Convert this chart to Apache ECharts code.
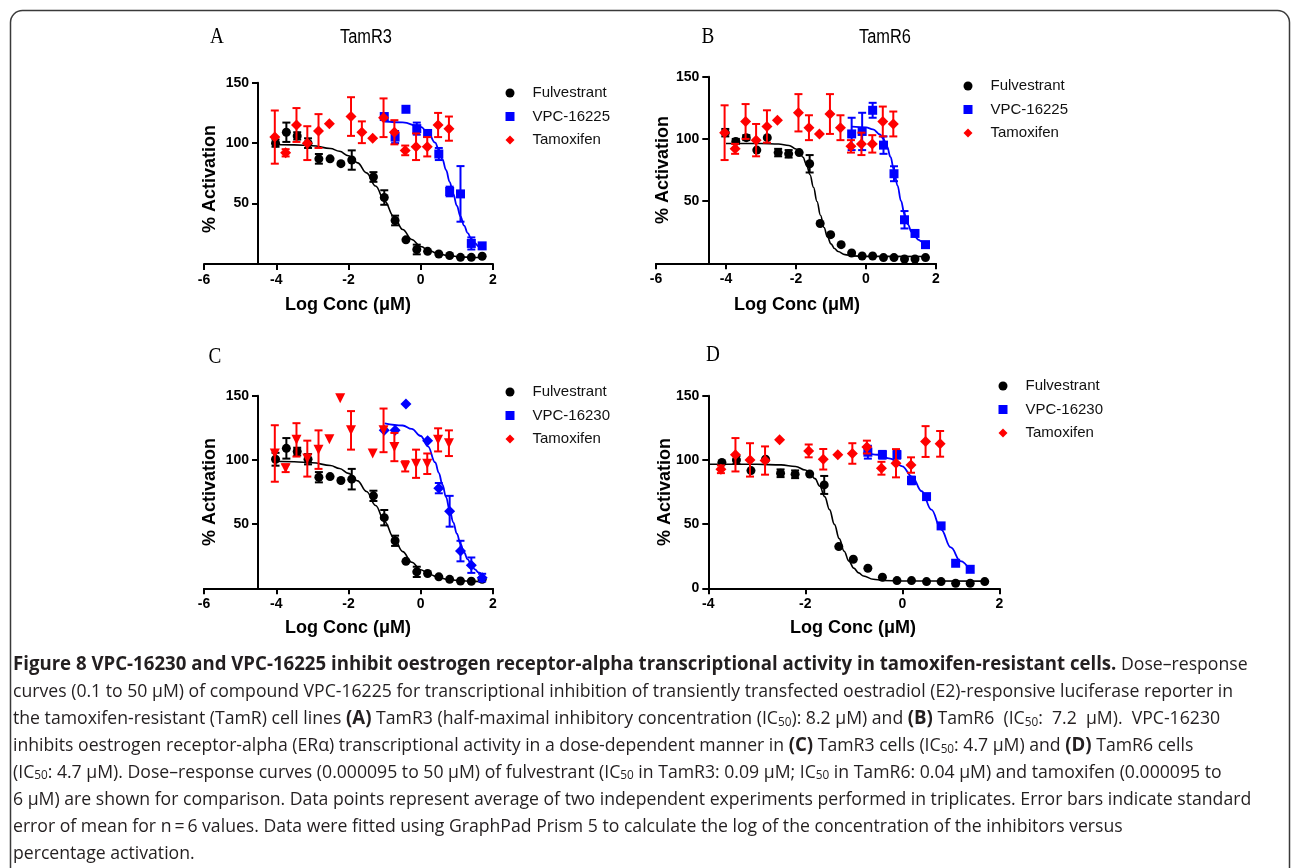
<!DOCTYPE html>
<html><head><meta charset="utf-8">
<script src="https://cdn.jsdelivr.net/npm/echarts@6/dist/echarts.min.js"></script>
<style>html,body{margin:0;padding:0;background:#fff}#c{width:1293px;height:868px}</style>
</head><body><div id="c"></div><script>
// ---------- DATA: [log conc (uM), % activation, SEM (0 = no bar)] ----------
// Panel A (TamR3, VPC-16225)
const aFulvestrant = [[-4.02,100,3],[-3.72,109,8],[-3.42,106,3],[-3.12,100,4],[-2.82,87,4],[-2.51,87,0],[-2.21,83,0],[-1.91,86,8],[-1.31,72,4],[-1.01,55,6],[-0.71,36,4],[-0.41,20,0],[-0.11,12,4],[0.19,10.5,0],[0.50,8.3,0],[0.80,7,0],[1.10,5.5,0],[1.40,5.5,0],[1.70,6.4,0]];
const aFulvestrantFit = [[-4.0,98.9],[-3.5,98.6],[-3.0,97.8],[-2.5,95.6],[-2.25,93.3],[-2.0,89.5],[-1.75,83.7],[-1.5,75.4],[-1.25,64.5],[-1.0,52],[-0.75,39.5],[-0.5,28.6],[-0.25,20.3],[0,14.5],[0.25,10.7],[0.5,8.4],[0.75,7.0],[1.0,6.2],[1.25,5.7],[1.5,5.4],[1.75,5.2]];
const aVpc16225 = [[-1.01,122,0],[-0.71,105,5],[-0.41,128,0],[-0.11,112,5],[0.19,108,0],[0.50,91,5],[0.80,60,4],[1.10,58,23],[1.40,17,5],[1.70,15,0]];
const aVpc16225Fit = [[-1.0,117.9],[-0.5,117.2],[0,113.4],[0.2,108.8],[0.4,100.4],[0.5,94.3],[0.6,86.7],[0.7,77.8],[0.8,68.0],[0.9,58.0],[1.0,48.2],[1.1,39.3],[1.2,31.8],[1.3,25.6],[1.4,20.8],[1.5,17.2],[1.6,14.5],[1.7,12.6]];
const aTamoxifen = [[-4.04,105,22],[-3.74,92,3],[-3.44,115,14],[-3.14,100,14],[-2.83,110,14],[-2.53,116,0],[-1.93,122,16],[-1.63,109,9],[-1.33,104,0],[-1.03,121,16],[-0.73,109,10],[-0.43,94,4],[-0.13,97,11],[0.18,97,8],[0.48,115,10],[0.78,112,10]];
// Panel B (TamR6, VPC-16225)
const bFulvestrant = [[-4.02,105,3],[-3.72,98,2],[-3.42,101,2],[-3.12,91,0],[-2.82,101,0],[-2.51,89,3],[-2.21,88,3],[-1.91,89,0],[-1.61,80,7],[-1.31,32,0],[-1.01,23,0],[-0.71,15,0],[-0.41,8.3,0],[-0.11,5.9,0],[0.19,5.9,0],[0.50,4.6,0],[0.80,4.6,0],[1.10,3.5,0],[1.40,3.5,0],[1.70,4.6,0]];
const bFulvestrantFit = [[-4.0,96.3],[-3.0,96.3],[-2.5,95.9],[-2.2,94.7],[-2.0,91.9],[-1.9,89.3],[-1.8,85.2],[-1.7,79.3],[-1.6,71.2],[-1.5,61.1],[-1.4,49.7],[-1.3,38.6],[-1.2,28.8],[-1.1,21.1],[-1.0,15.6],[-0.9,11.9],[-0.8,9.5],[-0.6,7.0],[-0.4,6.0],[0,5.6],[1.75,5.5]];
const bVpc16225 = [[-0.41,104,13],[-0.11,106,15],[0.19,123,6],[0.50,95,7],[0.80,72,6],[1.10,35,7],[1.40,24,0],[1.70,15,0]];
const bVpc16225Fit = [[-0.4,109.8],[0,109.2],[0.2,107.7],[0.4,103.7],[0.5,99.8],[0.6,93.9],[0.7,85.5],[0.8,74.8],[0.9,62.5],[1.0,50.2],[1.1,39.5],[1.2,31.1],[1.3,25.2],[1.4,21.3],[1.5,18.8],[1.6,17.3],[1.7,16.4]];
const bTamoxifen = [[-4.04,105,22],[-3.74,92,4],[-3.44,114,14],[-3.14,99,13],[-2.83,110,13],[-2.53,115,0],[-1.93,121,15],[-1.63,109,10],[-1.33,104,0],[-1.03,120,16],[-0.73,109,10],[-0.43,94,5],[-0.13,96,9],[0.18,96,7],[0.48,114,12],[0.78,112,10]];
// Panel C (TamR3, VPC-16230)
const cFulvestrant = [[-4.02,100.5,5],[-3.72,109,8],[-3.42,106.5,3],[-3.12,100.5,4],[-2.82,86.5,4],[-2.51,87,0],[-2.21,84,0],[-1.91,85,8],[-1.31,72,4],[-1.01,55,6],[-0.71,37,4],[-0.41,21,0],[-0.11,12.8,4],[0.19,11.5,0],[0.50,8.9,0],[0.80,7,0],[1.10,5.7,0],[1.40,5.5,0],[1.70,7,0]];
const cFulvestrantFit = [[-4.0,98.9],[-3.5,98.6],[-3.0,97.8],[-2.5,95.6],[-2.25,93.3],[-2.0,89.5],[-1.75,83.7],[-1.5,75.4],[-1.25,64.5],[-1.0,52],[-0.75,39.5],[-0.5,28.6],[-0.25,20.3],[0,14.5],[0.25,10.7],[0.5,8.4],[0.75,7.0],[1.0,6.2],[1.25,5.7],[1.5,5.4],[1.75,5.2]];
const cVpc16230 = [[-1.01,123,0],[-0.71,123,0],[-0.41,143.5,0],[0.19,115,0],[0.50,78,4],[0.80,60,12],[1.10,29,8],[1.40,18,6],[1.70,8.3,3]];
const cVpc16230Fit = [[-1.0,128.5],[-0.5,126.8],[-0.25,124.1],[0,118.6],[0.2,110.5],[0.4,98.0],[0.5,89.9],[0.6,80.7],[0.7,71.0],[0.8,61.0],[0.9,51.4],[1.0,42.5],[1.1,34.6],[1.2,27.9],[1.3,22.5],[1.4,18.2],[1.5,14.8],[1.6,12.3],[1.72,10.0]];
const cTamoxifen = [[-4.04,105,22],[-3.74,93.5,3],[-3.44,115.6,13],[-3.14,101,14],[-2.83,108,15],[-2.53,116,0],[-2.23,148,0],[-1.93,123,15],[-1.33,105,0],[-1.03,123,17],[-0.73,110,11],[-0.43,95,4],[-0.13,97,11],[0.18,97,8],[0.48,115.6,9],[0.78,113,10]];
// Panel D (TamR6, VPC-16230)
const dFulvestrant = [[-3.72,98,0],[-3.42,100,3],[-3.12,91.7,0],[-2.82,100.5,0],[-2.51,89.6,3],[-2.21,88.8,3],[-1.91,89,0],[-1.61,80.5,7],[-1.31,32.5,0],[-1.01,22.6,0],[-0.71,15.6,0],[-0.41,8.6,0],[-0.11,6,0],[0.19,6,0],[0.50,5.2,0],[0.80,5.2,0],[1.10,3.9,0],[1.40,3.9,0],[1.70,5.2,0]];
const dFulvestrantFit = [[-4.0,96.6],[-3.0,96.6],[-2.5,96.1],[-2.2,94.9],[-2.0,92.1],[-1.9,89.5],[-1.8,85.4],[-1.7,79.5],[-1.6,71.4],[-1.5,61.3],[-1.4,49.8],[-1.3,38.7],[-1.2,28.9],[-1.1,21.2],[-1.0,15.7],[-0.9,12.0],[-0.8,9.6],[-0.6,7.1],[-0.4,6.1],[0,5.7],[1.75,5.6]];
const dVpc16230 = [[-0.71,106,5],[-0.41,104,3],[-0.11,104,3],[0.19,84,3],[0.50,71.4,0],[0.80,48.6,0],[1.10,19.5,0],[1.40,14.8,0]];
const dVpc16230Fit = [[-0.8,105.8],[-0.5,104.0],[-0.25,101.0],[0,95.0],[0.2,87.0],[0.4,75.6],[0.6,61.2],[0.8,45.8],[1.0,31.8],[1.2,21.1],[1.4,13.8]];
const dTamoxifen = [[-3.74,92.7,3],[-3.44,104,13],[-3.14,100,13],[-2.83,99.5,11],[-2.53,115.6,0],[-1.93,107,5],[-1.63,100.5,8],[-1.33,104,0],[-1.03,105,8],[-0.73,110,5],[-0.43,93.5,5],[-0.13,97.4,11],[0.18,96,6],[0.48,114.3,12],[0.78,112.5,10]];

const panelLetters = ['A','B','C','D'];
const cellLines = ['TamR3','TamR6'];
const compounds = ['VPC-16225','VPC-16225','VPC-16230','VPC-16230'];
const xAxisTitle = 'Log Conc (\u03bcM)';
const yAxisTitle = '% Activation';
const captionLines = [
  '{b|Figure 8 VPC-16230 and VPC-16225 inhibit oestrogen receptor-alpha transcriptional activity in tamoxifen-resistant cells.} Dose\u2013response',
  'curves (0.1 to 50 \u03bcM) of compound VPC-16225 for transcriptional inhibition of transiently transfected oestradiol (E2)-responsive luciferase reporter in',
  'the tamoxifen-resistant (TamR) cell lines {b|(A)} TamR3 (half-maximal inhibitory concentration (IC{s|50}): 8.2 \u03bcM) and {b|(B)} TamR6  (IC{s|50}:  7.2  \u03bcM).  VPC-16230',
  'inhibits oestrogen receptor-alpha (ER\u03b1) transcriptional activity in a dose-dependent manner in {b|(C)} TamR3 cells (IC{s|50}: 4.7 \u03bcM) and {b|(D)} TamR6 cells',
  '(IC{s|50}: 4.7 \u03bcM). Dose\u2013response curves (0.000095 to 50 \u03bcM) of fulvestrant (IC{s|50} in TamR3: 0.09 \u03bcM; IC{s|50} in TamR6: 0.04 \u03bcM) and tamoxifen (0.000095 to',
  '6 \u03bcM) are shown for comparison. Data points represent average of two independent experiments performed in triplicates. Error bars indicate standard',
  'error of mean for n\u2009=\u20096 values. Data were fitted using GraphPad Prism 5 to calculate the log of the concentration of the inhibitors versus',
  'percentage activation.'
];

// ---------- LAYOUT ----------
const SANS = 'Liberation Sans, Arial, sans-serif';
const BLACK = '#000000', BLUE = '#0000ff', RED = '#ff0000';
const panels = [
  {grid:{left:204,top:82.7,width:289,height:181.3}, xMin:-6, yOffset:-54, zeroLabel:false,
   fulv:aFulvestrant, fulvFit:aFulvestrantFit, cmp:aVpc16225, cmpFit:aVpc16225Fit, tam:aTamoxifen,
   cmpSym:'rect', cmpSize:9, tamSym:'diamond', tamRot:0, legend:{left:505.5,top:85.5},
   yTitle:[210,179], xTitle:[348,305]},
  {grid:{left:656,top:76.7,width:280,height:186.6}, xMin:-6, yOffset:-52.3, zeroLabel:false,
   fulv:bFulvestrant, fulvFit:bFulvestrantFit, cmp:bVpc16225, cmpFit:bVpc16225Fit, tam:bTamoxifen,
   cmpSym:'rect', cmpSize:9, tamSym:'diamond', tamRot:0, legend:{left:963.5,top:78.5},
   yTitle:[663,170], xTitle:[797,305]},
  {grid:{left:204,top:395.7,width:289,height:192.6}, xMin:-6, yOffset:-54, zeroLabel:false,
   fulv:cFulvestrant, fulvFit:cFulvestrantFit, cmp:cVpc16230, cmpFit:cVpc16230Fit, tam:cTamoxifen,
   cmpSym:'diamond', cmpSize:11, tamSym:'triangle', tamRot:180, legend:{left:505.5,top:384.5},
   yTitle:[210,492], xTitle:[348,628]},
  {grid:{left:708.3,top:395.7,width:291,height:192.6}, xMin:-4, yOffset:0, zeroLabel:true,
   fulv:dFulvestrant, fulvFit:dFulvestrantFit, cmp:dVpc16230, cmpFit:dVpc16230Fit, tam:dTamoxifen,
   cmpSym:'rect', cmpSize:9, tamSym:'diamond', tamRot:0, legend:{left:998.5,top:378.5},
   yTitle:[665,492], xTitle:[853,628]}
];

function errorBars(data, color, i, z) {
  return {
    type:'custom', xAxisIndex:i, yAxisIndex:i, silent:true, z:z,
    data: data.filter(d => d[2] > 0).map(d => [d[0], d[1] - d[2], d[1] + d[2]]),
    encode:{x:0, y:[1,2]},
    renderItem: function (params, api) {
      const lo = api.coord([api.value(0), api.value(1)]);
      const hi = api.coord([api.value(0), api.value(2)]);
      const w = 4, st = {stroke:color, lineWidth:2};
      return {type:'group', children:[
        {type:'line', shape:{x1:lo[0],y1:lo[1],x2:hi[0],y2:hi[1]}, style:st},
        {type:'line', shape:{x1:lo[0]-w,y1:lo[1],x2:lo[0]+w,y2:lo[1]}, style:st},
        {type:'line', shape:{x1:hi[0]-w,y1:hi[1],x2:hi[0]+w,y2:hi[1]}, style:st}
      ]};
    }
  };
}
function fitLine(data, color, i, w) {
  return {type:'line', xAxisIndex:i, yAxisIndex:i, data:data, smooth:0.4, smoothMonotone:'x',
    showSymbol:false, silent:true, z:2, lineStyle:{color:color, width:w}};
}
function points(name, data, color, i, sym, size, rot, z) {
  return {name:name, type:'scatter', xAxisIndex:i, yAxisIndex:i, symbol:sym, symbolSize:size,
    symbolRotate:rot, z:z, data:data.map(d => [d[0], d[1]]), itemStyle:{color:color, opacity:1}};
}

const grids = [], xAxes = [], yAxes = [], series = [], legends = [], graphics = [];
panels.forEach((p, i) => {
  grids.push(p.grid);
  xAxes.push({type:'value', gridIndex:i, min:p.xMin, max:2, interval:2,
    splitLine:{show:false},
    axisLine:{onZero:false, lineStyle:{color:BLACK, width:2}},
    axisTick:{length:6, lineStyle:{color:BLACK, width:2}},
    axisLabel:{color:BLACK, fontFamily:SANS, fontWeight:'bold', fontSize:14, margin:9}});
  yAxes.push({type:'value', gridIndex:i, min:0, max:150, interval:50, offset:p.yOffset,
    splitLine:{show:false},
    axisLine:{show:true, onZero:false, lineStyle:{color:BLACK, width:2}},
    axisTick:{show:true, length:6, lineStyle:{color:BLACK, width:2}},
    axisLabel:{color:BLACK, fontFamily:SANS, fontWeight:'bold', fontSize:14, margin:9,
      formatter: (v) => (v === 0 && !p.zeroLabel) ? '' : String(v)}});
  series.push(fitLine(p.fulvFit, BLACK, i, 1.6));
  series.push(fitLine(p.cmpFit, BLUE, i, 1.8));
  series.push(errorBars(p.fulv, BLACK, i, 3));
  series.push(points('Fulvestrant', p.fulv, BLACK, i, 'circle', 9, 0, 3));
  series.push(errorBars(p.cmp, BLUE, i, 4));
  series.push(points(compounds[i], p.cmp, BLUE, i, p.cmpSym, p.cmpSize, 0, 4));
  series.push(errorBars(p.tam, RED, i, 5));
  series.push(points('Tamoxifen', p.tam, RED, i, p.tamSym, p.tamSym === 'triangle' ? 10 : 11, p.tamRot, 5));
  legends.push({left:p.legend.left, top:p.legend.top, orient:'vertical', itemWidth:9, itemHeight:9,
    itemGap:8.5, selectedMode:false, symbolRotate:0, padding:0,
    textStyle:{fontFamily:SANS, fontSize:15, color:'#111', padding:[0,0,0,13]},
    data:[{name:'Fulvestrant', icon:'circle'}, {name:compounds[i], icon:'rect'}, {name:'Tamoxifen', icon:'diamond'}]});
  graphics.push({type:'text', x:p.yTitle[0], y:p.yTitle[1], rotation:Math.PI/2,
    style:{text:yAxisTitle, fontFamily:SANS, fontWeight:'bold', fontSize:18, fill:BLACK, align:'center', verticalAlign:'middle'}});
  graphics.push({type:'text', x:p.xTitle[0], y:p.xTitle[1],
    style:{text:xAxisTitle, fontFamily:SANS, fontWeight:'bold', fontSize:18, fill:BLACK, align:'center', verticalAlign:'middle'}});
});

// panel letters & cell line titles
const letterPos = [[217,37],[708,37],[215,357],[713,355]];
panelLetters.forEach((L, i) => graphics.push({type:'text', x:letterPos[i][0], y:letterPos[i][1], scaleX:0.8,
  style:{text:L, fontFamily:'Liberation Serif, serif', fontSize:24, fill:BLACK, align:'center', verticalAlign:'middle'}}));
const titlePos = [[366,37],[885,37]];
cellLines.forEach((t, i) => graphics.push({type:'text', x:titlePos[i][0], y:titlePos[i][1], scaleX:0.82,
  style:{text:t, fontFamily:SANS, fontSize:20, fill:BLACK, align:'center', verticalAlign:'middle'}}));

// frame
graphics.push({type:'rect', shape:{x:10.5, y:10.5, width:1279, height:900, r:12}, silent:true,
  style:{fill:null, stroke:'#3a3a3a', lineWidth:1.5}});

// caption
const CAP = 'Open Sans, Noto Sans, sans-serif';
captionLines.forEach((line, k) => graphics.push({type:'text', x:13, y:665 + k*27, scaleX:0.98,
  style:{text:line, fontFamily:CAP, fontSize:18, fill:'#231f20', align:'left', verticalAlign:'middle',
    rich:{
      b:{fontFamily:CAP, fontSize:19, fontWeight:'bold', fill:'#231f20'},
      s:{fontFamily:CAP, fontSize:12, fill:'#231f20', verticalAlign:'bottom'}
    }}}));

const chart = echarts.init(document.getElementById('c'), null, {renderer:'canvas'});
chart.setOption({
  backgroundColor:'#ffffff', animation:false,
  grid:grids, xAxis:xAxes, yAxis:yAxes, series:series, legend:legends,
  graphic:{elements:graphics}
});
</script></body></html>
